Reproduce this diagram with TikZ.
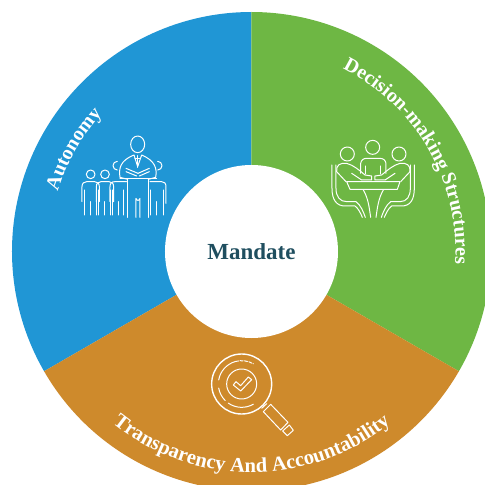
\documentclass[tikz,border=0pt]{standalone}
\usepackage{fontspec}
\setmainfont{Liberation Serif}
\usepackage{tikz}
\usetikzlibrary{decorations.text}
\definecolor{autonomyblue}{HTML}{2096D5}
\definecolor{decisiongreen}{HTML}{6EB744}
\definecolor{transparencyorange}{HTML}{CE8A2C}
\definecolor{mandateteal}{HTML}{1F4E5F}
\newcommand{\arcfont}{\fontsize{20}{20}\selectfont\bfseries\color{white}}
\newcommand{\arcfontwide}{\fontsize{20.6}{20.6}\selectfont\bfseries\color{white}}
\tikzset{
    arclabel/.style={decorate, decoration={text along path, text align=center, text={|\arcfont|#1}}},
    arclabelwide/.style={decorate, decoration={text along path, text align=center, text={|\arcfontwide|#1}}},
    iconline/.style={white, line width=1pt, line cap=round, line join=round},
}

\begin{document}
\begin{tikzpicture}[x=1pt,y=1pt]
    \useasboundingbox (-251.5,-233.5) rectangle (233.5,251.5);
    \clip (-251.5,-233.5) rectangle (233.5,251.5);

    % sectors
    \fill[autonomyblue] (0,0) -- (90:239.5) arc (90:210:239.5) -- cycle;
    \fill[decisiongreen] (0,0) -- (-30:239.5) arc (-30:90:239.5) -- cycle;
    \fill[transparencyorange] (0,0) -- (210:239.5) arc (210:330:239.5) -- cycle;
    \node[circle, fill=white, minimum size=173pt, text=mandateteal, font=\fontsize{23}{23}\selectfont\bfseries] (mandate) at (0,0) {Mandate};

    % labels on the ring
    \path[arclabel={Autonomy}] (210:203) arc (210:90:203);
    \path[arclabel={Decision-making Structures}] (100:204) arc (100:-40:204);
    \path[arclabelwide={Transparency And Accountability}] (190:221) arc (190:350:221);

    % people around the leader
    \begin{scope}[shift={(-191.5,161.5)},xscale=1/3,yscale=-1/3,iconline]
        \draw (233,163) ellipse (21 and 25);
        \draw (203,268) -- (180,262) .. controls (176,235) and (180,212) .. (222,195) -- (233,230) -- (245,195) .. controls (285,212) and (292,235) .. (287,262) -- (265,268);
        \draw (233,197) -- (233,232) (225,205) -- (241,205);
        \draw (198,235) -- (234,250) -- (268,235) (198,245) -- (230,258) (268,245) -- (238,258);
        \draw (180,266) -- (290,266);
        \draw (203,268) -- (203,382) (265,268) -- (265,382);
        \draw (228,382) -- (228,325) arc (180:0:6) -- (240,382);
        \foreach \px in {92,135} {
            \draw (\px,253) circle (13);
            \draw (\px-26,335) -- (\px-26,290) .. controls (\px-26,280) and (\px-20,275) .. (\px-12,275) -- (\px+12,275) .. controls (\px+20,275) and (\px+26,280) .. (\px+26,290) -- (\px+26,335);
            \draw (\px-18,300) -- (\px-18,375) (\px,335) -- (\px,375) (\px+18,300) -- (\px+18,375);
        }
        \draw (172,240) arc (90:270:13);
        \draw (150,335) -- (150,290) .. controls (150,280) and (155,275) .. (165,275) -- (200,275);
        \draw (157,300) -- (157,375) (175,335) -- (175,375) (192,300) -- (192,375);
        \draw (293,240) arc (90:-90:13);
        \draw (270,275) -- (305,275) .. controls (313,275) and (318,280) .. (318,290) -- (318,340);
        \draw (272,300) -- (272,375) (290,335) -- (290,375) (310,300) -- (310,375);
    \end{scope}

    % people at the table
    \begin{scope}[shift={(68.5,121.5)},xscale=1/3,yscale=-1/3,iconline]
        \foreach \hx/\hy in {158/52, 82/72, 237/72} {
            \draw (\hx,\hy) circle (21);
        }
        \draw (122,130) -- (122,100) .. controls (124,90) and (130,85) .. (140,85) -- (178,85) .. controls (190,85) and (196,90) .. (198,100) -- (198,130);
        \draw (137,132) -- (137,108) (183,132) -- (183,108);
        \draw (78,155) -- (50,125) .. controls (48,105) and (60,98) .. (80,100) .. controls (100,105) and (120,122) .. (135,135) -- (155,138) -- (155,150) -- (125,150) -- (95,130);
        \draw (242,155) -- (270,125) .. controls (272,105) and (260,98) .. (240,100) .. controls (220,105) and (200,122) .. (185,135) -- (165,138) -- (165,150) -- (195,150) -- (225,130);
        \draw (80,155) -- (240,155) -- (232,178) -- (90,178) -- cycle;
        \draw (130,180) .. controls (145,205) and (148,235) .. (152,262);
        \draw (190,180) .. controls (175,205) and (172,235) .. (168,262);
        \draw (36,105) -- (36,175) .. controls (36,210) and (50,228) .. (75,228) -- (105,228) .. controls (115,235) and (122,250) .. (127,262);
        \draw (48,105) -- (48,175) .. controls (48,200) and (60,215) .. (80,215) -- (108,215) .. controls (122,225) and (130,245) .. (136,262);
        \draw (283,105) -- (283,175) .. controls (283,210) and (270,228) .. (245,228) -- (215,228) .. controls (205,235) and (198,250) .. (193,262);
        \draw (271,105) -- (271,175) .. controls (271,200) and (260,215) .. (240,215) -- (212,215) .. controls (198,225) and (190,245) .. (184,262);
    \end{scope}

    % magnifier
    \begin{scope}[shift={(-51.5,-93.5)},xscale=1/3,yscale=-1/3,iconline]
        \draw[line width=1.4pt] (125,117) circle (90);
        \draw (125,117) circle (45);
        \draw (100,120) -- (108,110) -- (122,122) -- (145,96) -- (155,104) -- (122,138) -- cycle;
        \draw (125,117) ++(170:70) arc (170:135:70);
        \draw (125,117) ++(125:70) arc (125:60:70);
        \draw (125,117) ++(190:70) arc (190:255:70);
        \draw[dash pattern=on 3pt off 1.5pt] (125,117) ++(255:70) arc (255:300:70);
        \draw (185,190) -- (200,176);
        \draw (190,200) -- (212,178) -- (264,232) -- (242,255) -- cycle;
        \draw (248,258) -- (268,240) -- (280,256) -- (262,272) -- cycle;
    \end{scope}
\end{tikzpicture}
\end{document}
